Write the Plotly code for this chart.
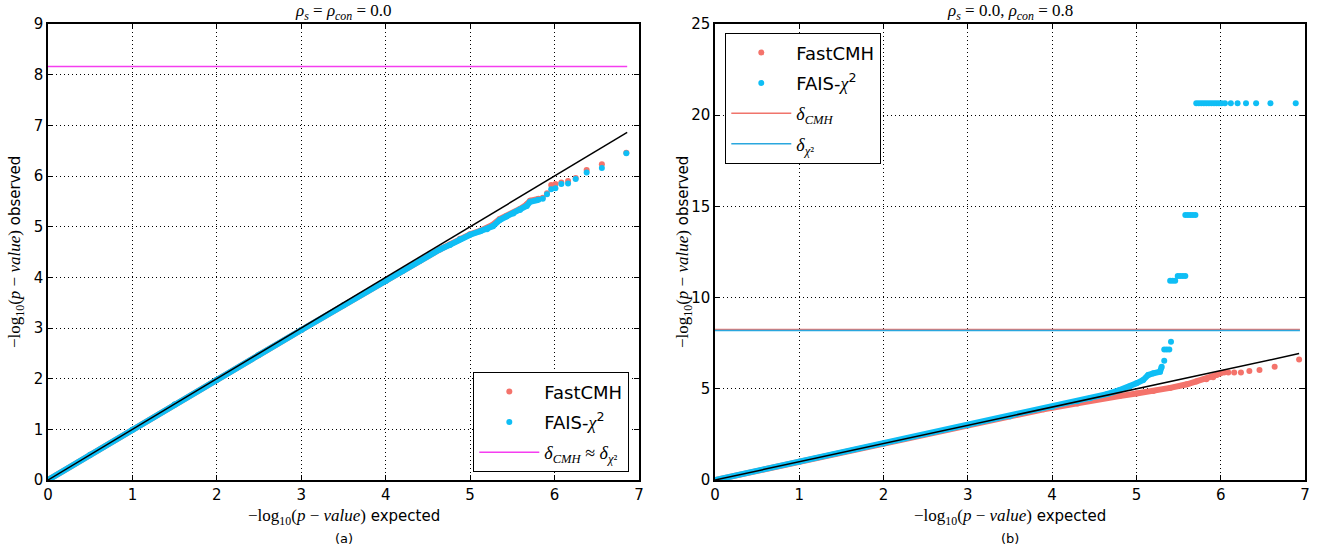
import plotly.graph_objects as go

# ---------------- data ----------------
# Left panel (a): rho_s = rho_con = 0.0
a_band_exp  = [0.0, 0.5, 1.0, 1.5, 2.0, 2.5, 3.0, 3.5, 4.0, 4.2, 4.41, 4.52, 4.64, 4.76, 4.88, 5.00, 5.12, 5.20, 5.27, 5.35, 5.43, 5.51, 5.59, 5.67, 5.71, 5.81]
a_band_fais = [0.0, 0.5, 0.99, 1.49, 1.98, 2.47, 2.96, 3.45, 3.93, 4.13, 4.33, 4.45, 4.55, 4.64, 4.75, 4.84, 4.91, 4.95, 5.01, 5.13, 5.20, 5.26, 5.33, 5.41, 5.49, 5.53]
a_band_cmh  = [0.0, 0.5, 0.99, 1.49, 1.98, 2.47, 2.96, 3.45, 3.93, 4.13, 4.33, 4.45, 4.55, 4.65, 4.76, 4.85, 4.92, 4.97, 5.04, 5.15, 5.21, 5.27, 5.35, 5.44, 5.51, 5.55]
a_tail_exp  = [5.86, 5.91, 5.96, 6.01, 6.08, 6.16, 6.25, 6.38, 6.56, 6.85]
a_tail_fais = [5.55, 5.64, 5.74, 5.76, 5.84, 5.85, 5.94, 6.07, 6.16, 6.45]
a_tail_cmh  = [5.57, 5.66, 5.82, 5.84, 5.87, 5.90, 5.96, 6.12, 6.23, 6.46]
a_ref_x = [0.0, 6.86]
a_delta = 8.16

# Right panel (b): rho_s = 0.0, rho_con = 0.8
b_fais_band_exp = [0.0, 1.0, 2.0, 3.0, 3.5, 4.0, 4.3, 4.45, 4.65, 4.80, 4.92, 5.00, 5.08, 5.14, 5.20, 5.28, 5.30]
b_fais_band_obs = [0.0, 1.0, 2.0, 3.0, 3.5, 4.0, 4.32, 4.48, 4.71, 4.93, 5.12, 5.30, 5.48, 5.76, 5.85, 5.94, 6.21]
b_fais_tail_exp = [5.33, 5.33, 5.36, 5.39, 5.41, 5.40, 5.43, 5.46, 5.49, 5.52, 5.55, 5.58, 5.58, 5.61, 5.64, 5.67, 5.70,
                   5.71, 5.74, 5.77, 5.80, 5.83, 5.86, 5.89, 5.92, 5.95, 5.98, 6.01, 6.05, 6.12, 6.20, 6.30, 6.42, 6.59, 6.89]
b_fais_tail_obs = [6.54, 7.16, 7.16, 7.16, 7.58, 10.93, 10.93, 10.93, 11.18, 11.18, 11.18, 11.18, 14.53, 14.53, 14.53, 14.53, 14.53,
                   20.65, 20.65, 20.65, 20.65, 20.65, 20.65, 20.65, 20.65, 20.65, 20.65, 20.65, 20.65, 20.65, 20.65, 20.65, 20.65, 20.65, 20.65]
b_cmh_band_exp = [0.0, 1.0, 2.0, 3.0, 3.5, 3.9, 4.3, 4.5, 4.8, 5.0, 5.2, 5.4, 5.6, 5.71, 5.83, 5.91, 5.95, 6.0]
b_cmh_band_obs = [0.0, 1.0, 2.0, 3.0, 3.5, 3.88, 4.2, 4.38, 4.6, 4.74, 4.88, 5.05, 5.25, 5.40, 5.52, 5.63, 5.76, 5.85]
b_cmh_tail_exp = [6.04, 6.09, 6.16, 6.24, 6.34, 6.46, 6.64, 6.93]
b_cmh_tail_obs = [5.89, 5.89, 5.89, 5.90, 5.98, 6.03, 6.21, 6.61]
b_ref_x = [0.0, 6.93]
b_delta_cmh = 8.25
b_delta_chi = 8.20
b_delta_x = [0.0, 6.94]

# ---------------- styles ----------------
RED = "#F4736B"
BLUE = "#0FBEF5"
BLUE_LINE = "#2AA7DE"
RED_LINE = "#F0746B"
MAG = "#F53DF0"
SERIF = "Liberation Serif"
SANS = "DejaVu Sans"
MS = 6

W, H = 1320, 552
def px(x):
    return x / W
def py(y):
    return 1 - y / H

fig = go.Figure()

# ---- panel (a) ----
fig.add_trace(go.Scatter(x=a_band_exp, y=a_band_cmh, mode="lines+markers", line=dict(color=RED, width=MS),
                         marker=dict(color=RED, size=MS), showlegend=False, xaxis="x", yaxis="y"))
fig.add_trace(go.Scatter(x=a_tail_exp, y=a_tail_cmh, mode="markers", marker=dict(color=RED, size=MS),
                         name="FastCMH", legend="legend", legendgroup="a1", xaxis="x", yaxis="y"))
fig.add_trace(go.Scatter(x=a_band_exp, y=a_band_fais, mode="lines+markers", line=dict(color=BLUE, width=MS),
                         marker=dict(color=BLUE, size=MS), showlegend=False, xaxis="x", yaxis="y"))
fig.add_trace(go.Scatter(x=a_tail_exp, y=a_tail_fais, mode="markers", marker=dict(color=BLUE, size=MS),
                         name=f"FAIS-<span style='font-family:{SERIF}'><i>χ</i></span><sup>2</sup>",
                         legend="legend", legendgroup="a2", xaxis="x", yaxis="y"))
fig.add_trace(go.Scatter(x=[a_ref_x[0], a_ref_x[1]], y=[a_delta, a_delta], mode="lines", line=dict(color=MAG, width=1.5),
                         name=f"<span style='font-family:{SERIF}'><i>δ</i><sub><i>CMH</i></sub> ≈ <i>δ</i><sub><i>χ</i>²</sub></span>",
                         legend="legend", legendgroup="a3", xaxis="x", yaxis="y"))
fig.add_trace(go.Scatter(x=a_ref_x, y=a_ref_x, mode="lines", line=dict(color="black", width=1.5),
                         showlegend=False, xaxis="x", yaxis="y"))

# ---- panel (b) ----
fig.add_trace(go.Scatter(x=b_cmh_band_exp, y=b_cmh_band_obs, mode="lines+markers", line=dict(color=RED, width=MS),
                         marker=dict(color=RED, size=MS), showlegend=False, xaxis="x2", yaxis="y2"))
fig.add_trace(go.Scatter(x=b_cmh_tail_exp, y=b_cmh_tail_obs, mode="markers", marker=dict(color=RED, size=MS),
                         name="FastCMH", legend="legend2", legendgroup="b1", xaxis="x2", yaxis="y2"))
fig.add_trace(go.Scatter(x=b_fais_band_exp, y=b_fais_band_obs, mode="lines+markers", line=dict(color=BLUE, width=MS),
                         marker=dict(color=BLUE, size=MS), showlegend=False, xaxis="x2", yaxis="y2"))
fig.add_trace(go.Scatter(x=b_fais_tail_exp, y=b_fais_tail_obs, mode="markers", marker=dict(color=BLUE, size=MS),
                         name=f"FAIS-<span style='font-family:{SERIF}'><i>χ</i></span><sup>2</sup>",
                         legend="legend2", legendgroup="b2", xaxis="x2", yaxis="y2"))
fig.add_trace(go.Scatter(x=b_delta_x, y=[b_delta_cmh, b_delta_cmh], mode="lines", line=dict(color=RED_LINE, width=1.5),
                         name=f"<span style='font-family:{SERIF}'><i>δ</i><sub><i>CMH</i></sub></span>",
                         legend="legend2", legendgroup="b3", xaxis="x2", yaxis="y2"))
fig.add_trace(go.Scatter(x=b_delta_x, y=[b_delta_chi, b_delta_chi], mode="lines", line=dict(color=BLUE_LINE, width=1.5),
                         name=f"<span style='font-family:{SERIF}'><i>δ</i><sub><i>χ</i>²</sub></span>",
                         legend="legend2", legendgroup="b4", xaxis="x2", yaxis="y2"))
fig.add_trace(go.Scatter(x=b_ref_x, y=b_ref_x, mode="lines", line=dict(color="black", width=1.5),
                         showlegend=False, xaxis="x2", yaxis="y2"))

axis_common = dict(showline=True, linecolor="black", linewidth=1.5, mirror="ticks",
                   ticks="inside", ticklen=5, tickwidth=1, tickcolor="black",
                   showgrid=True, gridcolor="black", gridwidth=1, griddash="1px,3px",
                   zeroline=False, tickfont=dict(family=SANS, size=15, color="black"))

ydom = [py(480), py(24)]
leg_common = dict(bgcolor="white", bordercolor="black", borderwidth=1.3, itemwidth=60,
                  font=dict(family=SANS, size=18, color="black"), tracegroupgap=4)
fig.update_layout(
    width=W, height=H, margin=dict(l=0, r=0, t=0, b=0, autoexpand=False),
    paper_bgcolor="white", plot_bgcolor="white",
    xaxis=dict(domain=[px(48), px(639)], range=[0, 7], dtick=1, anchor="y", **axis_common),
    yaxis=dict(domain=ydom, range=[0, 9], dtick=1, anchor="x", **axis_common),
    xaxis2=dict(domain=[px(715), px(1305)], range=[0, 7], dtick=1, anchor="y2", **axis_common),
    yaxis2=dict(domain=ydom, range=[0, 25], dtick=5, anchor="x2", **axis_common),
    legend=dict(x=px(629), y=py(472), xanchor="right", yanchor="bottom", **leg_common),
    legend2=dict(x=px(725), y=py(33), xanchor="left", yanchor="top", **leg_common),
)

lab = f"<span style='font-family:{SERIF};font-size:17px'>−log<sub>10</sub>(<i>p</i> − <i>value</i>)</span>"
ann = []
for cx in (343.5, 1010):
    ann.append(dict(x=px(cx), y=py(517), xref="paper", yref="paper", text=lab + " expected",
                    xanchor="center", yanchor="middle",
                    showarrow=False, font=dict(family=SANS, size=15, color="black")))
for cx, t in ((343.5, "(a)"), (1010, "(b)")):
    ann.append(dict(x=px(cx), y=py(538), xref="paper", yref="paper", text=t,
                    xanchor="center", yanchor="middle",
                    showarrow=False, font=dict(family=SANS, size=13, color="black")))
for cx in (16, 684):
    ann.append(dict(x=px(cx), y=py(252), xref="paper", yref="paper", text=lab + " observed",
                    xanchor="center", yanchor="middle",
                    textangle=-90, showarrow=False, font=dict(family=SANS, size=15, color="black")))
ann.append(dict(x=px(343.5), y=py(12), xref="paper", yref="paper",
                text="<i>ρ</i><sub><i>s</i></sub> = <i>ρ</i><sub><i>con</i></sub> = 0.0",
                xanchor="center", yanchor="middle",
                showarrow=False, font=dict(family=SERIF, size=17, color="black")))
ann.append(dict(x=px(1010), y=py(12), xref="paper", yref="paper",
                text="<i>ρ</i><sub><i>s</i></sub> = 0.0, <i>ρ</i><sub><i>con</i></sub> = 0.8",
                xanchor="center", yanchor="middle",
                showarrow=False, font=dict(family=SERIF, size=17, color="black")))
fig.update_layout(annotations=ann)

fig.write_html("out.html", config={"displayModeBar": False},
               post_script="document.body.style.margin='0px';")
